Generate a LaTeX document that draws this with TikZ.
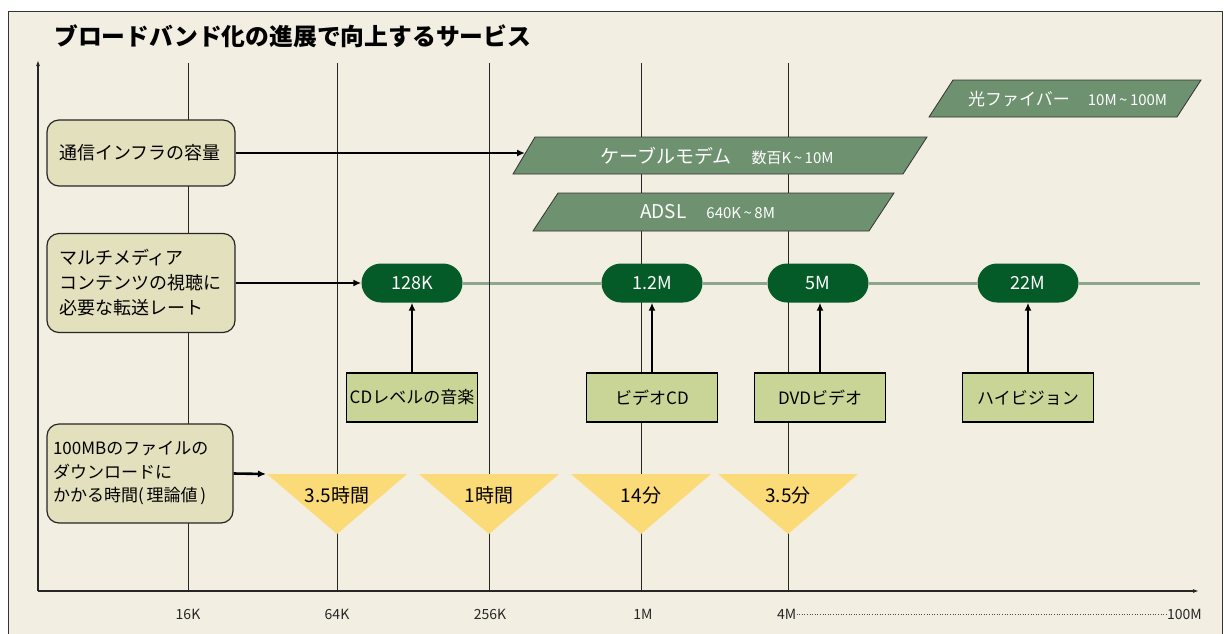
\documentclass[tikz,border=0pt]{standalone}
\usepackage{fontspec}
\setmainfont{Noto Sans CJK JP}
\usetikzlibrary{arrows.meta}
\definecolor{bgc}{HTML}{F2EEE1}
\definecolor{lboxc}{HTML}{E3E0BD}
\definecolor{parac}{HTML}{6E9170}
\definecolor{pillc}{HTML}{045B27}
\definecolor{plinec}{HTML}{8CA78C}
\definecolor{sboxc}{HTML}{C9D596}
\definecolor{tric}{HTML}{FBDA78}
\pgfdeclarelayer{back}
\pgfdeclarelayer{lines}
\pgfdeclarelayer{grid}
\pgfsetlayers{back,lines,grid,main}
\newcommand{\fs}[2]{\fontsize{#1}{#2}\selectfont}
\tikzset{
  lbox/.style={draw=black!85, line width=1.2pt, fill=lboxc, rounded corners=12pt,
    align=left, inner xsep=12pt, inner ysep=0pt, anchor=center},
  pillbox/.style={fill=pillc, rounded corners=19.5pt, minimum width=101pt, minimum height=39pt,
    text=white, font=\fs{18}{20}, inner sep=0pt},
  sbox/.style={draw=black, line width=1.6pt, fill=sboxc, minimum width=131pt, minimum height=49pt,
    font=\fs{17}{20}, inner sep=0pt},
  para/.style={draw=black!80, line width=0.8pt, fill=parac},
  ptext/.style={text=white, inner sep=0pt},
  tri/.style={fill=tric},
  tritext/.style={font=\fs{19}{22}, inner sep=0pt},
  gridline/.style={draw=black!85, line width=0.9pt},
  axisline/.style={draw=black!85, line width=1.3pt},
  conn/.style={draw=black, line width=2.6pt, -{Latex[length=8pt,width=7pt]}},
  plink/.style={draw=plinec, line width=3pt},
  axlabel/.style={font=\fs{14}{16}, inner sep=0pt, text=black!85},
}
\begin{document}
\begin{tikzpicture}[x=1pt,y=-1pt]
\useasboundingbox (0,0) rectangle (1224,633);
\begin{pgfonlayer}{back}
\fill[white] (0,0) rectangle (1224,633);
\fill[bgc] (8,11) rectangle (1222,640);
\draw[black!80, line width=1pt] (8,640) -- (8,11) -- (1222,11) -- (1222,640);
\end{pgfonlayer}

% title
\node[anchor=west, inner sep=0pt, font=\bfseries\fs{23.8}{26}] (title) at (54,36) {ブロードバンド化の進展で向上するサービス};

% grid
\begin{pgfonlayer}{grid}
\foreach \gx in {188,337,489,641,788}{
  \draw[gridline] (\gx,63) -- (\gx,591);
}
\end{pgfonlayer}

% axes
\coordinate (origin) at (38,591);
\coordinate (ytop) at (38,60);
\coordinate (xend) at (1199,591);
\draw[axisline, -{Latex[length=6pt,width=4pt]}] (origin) -- (ytop);
\draw[axisline, -{Latex[length=6pt,width=4pt]}] (origin) -- (xend);

% axis labels
\node[axlabel] (l16) at (188,614) {16K};
\node[axlabel] (l64) at (337,614) {64K};
\node[axlabel] (l256) at (490,614) {256K};
\node[axlabel] (l1) at (643,614) {1M};
\node[axlabel, anchor=west] (l4) at (777,614) {4M};
\node[axlabel, anchor=east] (l100) at (1202,614) {100M};
\draw[black!70, line width=0.6pt, dotted] (l4.east) -- (l100.west);

% left boxes
\node[lbox, text width=164pt, minimum height=66pt, font=\fs{18}{25}] (b1) at (141,153) {通信インフラの容量};
\node[lbox, text width=164pt, minimum height=99pt, font=\fs{18}{25}] (b2) at (141,283) {マルチメディア\\コンテンツの視聴に\\必要な転送レート};
\node[lbox, inner xsep=6pt, text width=174pt, minimum height=99pt, font=\fs{17}{23.5}] (b3) at (140,473.5) {100MBのファイルの\\ダウンロードに\\かかる時間(\,理論値\,)};

% parallelograms
\draw[para] (953,80) -- (1201,80) -- (1177,117) -- (929,117) -- cycle;
\node[ptext, anchor=base west] (fiber) at (968,105) {\fs{17}{20}光ファイバー\hspace{18pt}\fs{15}{18}10M\,\textasciitilde\,100M};
\draw[para] (535,137) -- (927,137) -- (903,174) -- (513,174) -- cycle;
\node[ptext, anchor=base west] (cable) at (600,163.5) {\fs{19}{22}ケーブルモデム\hspace{20pt}\fs{15}{18}数百K\,\textasciitilde\,10M};
\coordinate (cableL) at (525,153);
\draw[para] (558,193) -- (894,193) -- (869,231) -- (533,231) -- cycle;
\node[ptext, anchor=base west] (adsl) at (640,218.5) {\fs{19}{22}ADSL\hspace{20pt}\fs{15}{18}640K\,\textasciitilde\,8M};

% pills
\node[pillbox] (p128) at (412,283) {128K};
\node[pillbox] (p12) at (652,283) {1.2M};
\node[pillbox] (p5) at (818,283) {5M};
\node[pillbox] (p22) at (1028,283) {22M};
\coordinate (pend) at (1200,283);
\begin{pgfonlayer}{lines}
\draw[plink] (p128.east) -- (p12.west);
\draw[plink] (p12.east) -- (p5.west);
\draw[plink] (p5.east) -- (p22.west);
\draw[plink] (p22.east) -- (pend);
\end{pgfonlayer}

% service boxes
\node[sbox] (cd) at (412,397.5) {CDレベルの音楽};
\node[sbox] (vcd) at (652,397.5) {ビデオCD};
\node[sbox] (dvd) at (820,397.5) {DVDビデオ};
\node[sbox] (hv) at (1028,397.5) {ハイビジョン};

\draw[conn] (cd.north) -- (cd.north |- p128.south);
\draw[conn] (vcd.north) -- (vcd.north |- p12.south);
\draw[conn] (dvd.north) -- (dvd.north |- p5.south);
\draw[conn] (hv.north) -- (hv.north |- p22.south);

% triangles
\foreach \cx/\nm/\txt in {337/t1/3.5時間, 489/t2/1時間, 641/t3/14分, 788/t4/3.5分}{
  \fill[tri] (\cx-70,474) -- (\cx+70,474) -- (\cx,534) -- cycle;
  \node[tritext] (\nm) at (\cx,495) {\txt};
}
\coordinate (t1L) at (266,474);

% left connectors
\draw[conn] (b1.east) -- (cableL);
\draw[conn] (b2.east) -- (p128.west);
\draw[conn] (b3.east) -- (t1L);
\end{tikzpicture}
\end{document}
